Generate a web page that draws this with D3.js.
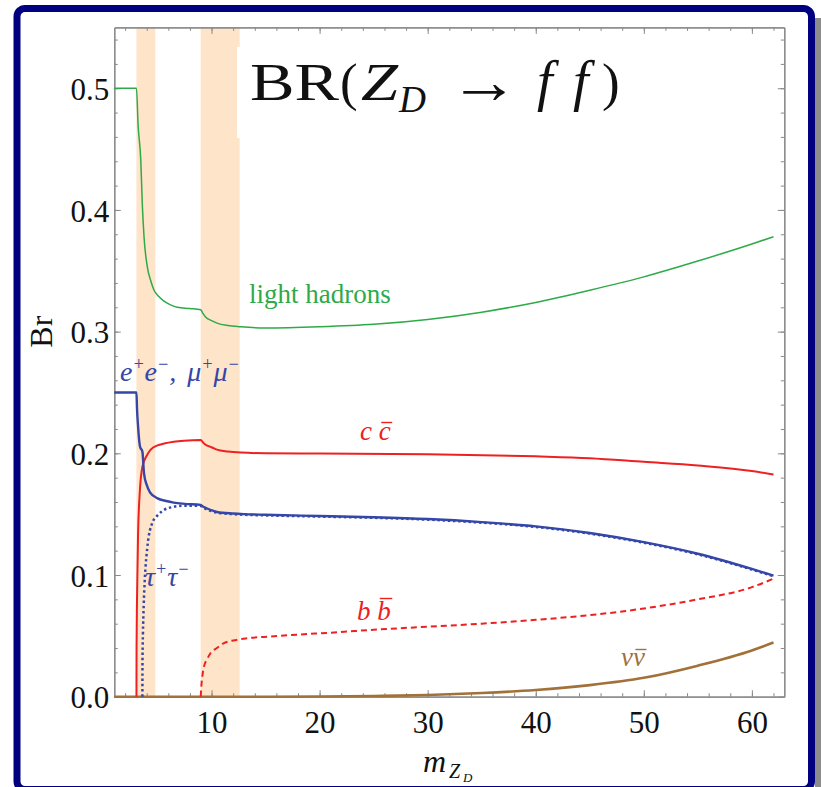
<!DOCTYPE html>
<html>
<head>
<meta charset="utf-8">
<script src="https://cdn.jsdelivr.net/npm/d3@7"></script>
<style>
  html, body { margin: 0; padding: 0; background: #fff; }
  svg { display: block; }
  text { font-family: "Liberation Serif", "Times New Roman", serif; }
</style>
</head>
<body>
<script>
// Branching ratios of the dark Z boson into fermion pairs versus its mass (GeV)

// light hadrons
const mHad = [1, 3.05, 3.2, 3.45, 3.6, 3.75, 4.06, 4.4, 4.68, 5.1, 5.6, 6.2, 6.83, 8, 9.0, 9.2, 9.45, 10, 10.5, 11.5, 12.7, 15, 20, 25, 30, 35, 40, 45, 50, 55, 60, 62];
const brHad = [0.5, 0.5, 0.47, 0.441, 0.403, 0.378, 0.353, 0.341, 0.334, 0.329, 0.325, 0.322, 0.320, 0.319, 0.318, 0.315, 0.312, 0.309, 0.307, 0.305, 0.304, 0.303, 0.304, 0.306, 0.310, 0.316, 0.324, 0.334, 0.345, 0.358, 0.372, 0.378];

// c cbar
const mCC = [3.05, 3.06, 3.1, 3.2, 3.35, 3.6, 4.0, 4.37, 5.0, 5.6, 6.5, 7.45, 9.0, 9.2, 9.45, 10, 10.5, 11.5, 12.7, 15, 20, 30, 40, 45, 50, 55, 60, 62];
const brCC = [0, 0.04, 0.079, 0.134, 0.167, 0.189, 0.198, 0.203, 0.2065, 0.208, 0.2095, 0.2104, 0.211, 0.209, 0.207, 0.205, 0.203, 0.2015, 0.2006, 0.2000, 0.1998, 0.1993, 0.1975, 0.196, 0.193, 0.190, 0.1855, 0.1825];

// e+e- and mu+mu- (each)
const mLep = [1, 3.05, 3.1, 3.2, 3.38, 3.6, 3.75, 4.0, 4.3, 5.0, 5.8, 6.5, 7.5, 9.0, 9.2, 9.5, 10.5, 12, 13, 15, 20, 25, 30, 35, 40, 45, 50, 55, 60, 62];
const brLep = [0.25, 0.25, 0.237, 0.222, 0.2055, 0.2014, 0.1836, 0.174, 0.168, 0.163, 0.1608, 0.1595, 0.1585, 0.1576, 0.1562, 0.155, 0.1518, 0.1505, 0.1500, 0.1495, 0.1485, 0.1475, 0.146, 0.1435, 0.140, 0.1345, 0.127, 0.1175, 0.105, 0.0995];

// tau+tau-
const mTau = [3.6, 3.61, 3.65, 3.72, 3.82, 4.06, 4.5, 5.0, 5.6, 6.5, 7.5, 9.0, 9.2, 9.5, 10.5, 12, 13, 15, 20, 25, 30, 35, 40, 45, 50, 55, 60, 62];
const brTau = [0, 0.03, 0.052, 0.075, 0.096, 0.123, 0.1425, 0.149, 0.1535, 0.156, 0.157, 0.1568, 0.1555, 0.1542, 0.1512, 0.1500, 0.1495, 0.1490, 0.1480, 0.1470, 0.1455, 0.1430, 0.1395, 0.1340, 0.1265, 0.1170, 0.1045, 0.099];

// b bbar
const mBB = [9.0, 9.05, 9.15, 9.3, 9.6, 9.9, 10.5, 11.1, 12, 13.3, 15.5, 18, 21, 25, 30, 35, 40, 45, 50, 55, 60, 62];
const brBB = [0, 0.008, 0.017, 0.0247, 0.031, 0.0357, 0.040, 0.0439, 0.0462, 0.048, 0.0495, 0.051, 0.0526, 0.055, 0.0575, 0.060, 0.0632, 0.067, 0.0725, 0.080, 0.090, 0.097];

// nu nubar
const mNu = [1, 15, 20, 25, 30, 35, 40, 45, 50, 55, 60, 62];
const brNu = [0, 0, 0.0002, 0.0006, 0.0014, 0.003, 0.0055, 0.0095, 0.0155, 0.0255, 0.038, 0.0445];

// shaded resonance regions (charmonium, bottomonium)
const bands = [[3.05, 4.8], [9.0, 12.6]];

// axis ticks
const xMajor = [10, 20, 30, 40, 50, 60];
const xMinor = d3.range(2, 63, 2);
const yMajor = [0, 0.1, 0.2, 0.3, 0.4, 0.5];
const yMinor = d3.range(0, 0.551, 0.02);

const W = 821, H = 787;
const svg = d3.select("body").append("svg").attr("width", W).attr("height", H);

svg.append("rect").attr("width", W).attr("height", H).attr("fill", "#fff");

// slide frame with drop shadow
svg.append("rect").attr("x", 815).attr("y", 18).attr("width", 6).attr("height", H - 18).attr("fill", "#8c8c8c");
svg.append("rect").attr("x", 17).attr("y", 8.5).attr("width", 794.5).attr("height", 781)
  .attr("rx", 8).attr("fill", "#fff").attr("stroke", "#000080").attr("stroke-width", 7);

const x = d3.scaleLinear().domain([1, 63]).range([114.3, 784.3]);
const y = d3.scaleLinear().domain([0, 0.55]).range([696.7, 27.4]);

const band = "#fee4c8";
svg.append("g").selectAll("rect").data(bands).join("rect")
  .attr("x", d => x(d[0])).attr("width", d => x(d[1]) - x(d[0]))
  .attr("y", y(0.55)).attr("height", y(0) - y(0.55))
  .attr("fill", band);

// title panel
svg.append("rect").attr("x", 237).attr("y", 47).attr("width", 395).attr("height", 91).attr("fill", "#fff");
const tt = svg.append("g").attr("fill", "#111");
tt.append("text").attr("x", 250).attr("y", 100).attr("font-size", 53)
  .attr("textLength", 89).attr("lengthAdjust", "spacingAndGlyphs").text("BR");
tt.append("text").attr("x", 340).attr("y", 100).attr("font-size", 53).text("(");
tt.append("text").attr("x", 361).attr("y", 100).attr("font-size", 53).attr("font-style", "italic")
  .attr("textLength", 37).attr("lengthAdjust", "spacingAndGlyphs").text("Z");
tt.append("text").attr("x", 399).attr("y", 111.5).attr("font-size", 37).attr("font-style", "italic")
  .attr("textLength", 27).attr("lengthAdjust", "spacingAndGlyphs").text("D");
tt.append("text").attr("x", 449).attr("y", 103).attr("font-size", 64)
  .attr("textLength", 70).attr("lengthAdjust", "spacingAndGlyphs").text("→");
tt.append("text").attr("x", 537).attr("y", 100).attr("font-size", 56).attr("font-style", "italic").text("f");
tt.append("text").attr("x", 573).attr("y", 100).attr("font-size", 56).attr("font-style", "italic").text("f");
tt.append("text").attr("x", 602).attr("y", 100).attr("font-size", 53).text(")");

// axes: frame with inward ticks on all four sides
const axisColor = "#8a8a8a";
function styleAxis(g) {
  g.select(".domain").attr("stroke", axisColor).attr("stroke-width", 1.2);
  g.selectAll(".tick line").attr("stroke", axisColor);
  g.selectAll("text").attr("fill", "#111").attr("font-family", "'Liberation Serif', 'Times New Roman', serif").attr("font-size", 31);
}
const yb = y(0), yt = y(0.55), xl = x(1), xr = x(63);

svg.append("g").attr("transform", `translate(0,${yb})`)
  .call(d3.axisBottom(x).tickValues(xMinor).tickSize(-3.5).tickFormat("").tickSizeOuter(0))
  .call(styleAxis);
svg.append("g").attr("transform", `translate(0,${yb})`)
  .call(d3.axisBottom(x).tickValues(xMajor).tickSize(-6.5).tickPadding(14).tickSizeOuter(0))
  .call(styleAxis)
  .call(g => g.selectAll("text").attr("dy", "0.71em"));
svg.append("g").attr("transform", `translate(0,${yt})`)
  .call(d3.axisTop(x).tickValues(xMinor).tickSize(-3.5).tickFormat("").tickSizeOuter(0)).call(styleAxis);
svg.append("g").attr("transform", `translate(0,${yt})`)
  .call(d3.axisTop(x).tickValues(xMajor).tickSize(-6.5).tickFormat("").tickSizeOuter(0)).call(styleAxis);

svg.append("g").attr("transform", `translate(${xl},0)`)
  .call(d3.axisLeft(y).tickValues(yMinor).tickSize(-3.5).tickFormat("").tickSizeOuter(0)).call(styleAxis);
svg.append("g").attr("transform", `translate(${xl},0)`)
  .call(d3.axisLeft(y).tickValues(yMajor).tickSize(-6.5).tickPadding(5).tickFormat(d3.format(".1f")).tickSizeOuter(0))
  .call(styleAxis)
  .call(g => g.selectAll("text").attr("dy", "0.36em"));
svg.append("g").attr("transform", `translate(${xr},0)`)
  .call(d3.axisRight(y).tickValues(yMinor).tickSize(-3.5).tickFormat("").tickSizeOuter(0)).call(styleAxis);
svg.append("g").attr("transform", `translate(${xr},0)`)
  .call(d3.axisRight(y).tickValues(yMajor).tickSize(-6.5).tickFormat("").tickSizeOuter(0)).call(styleAxis);

// axis titles
svg.append("text").attr("transform", `translate(52,${y(0.3)}) rotate(-90)`)
  .attr("text-anchor", "middle").attr("font-size", 32).attr("fill", "#111").text("Br");
const xt = svg.append("g").attr("fill", "#111").attr("font-style", "italic");
xt.append("text").attr("x", 423).attr("y", 772).attr("font-size", 32).text("m");
xt.append("text").attr("x", 449).attr("y", 778).attr("font-size", 20).text("Z");
xt.append("text").attr("x", 463).attr("y", 782).attr("font-size", 13).text("D");

// curves
const green = "#2eaa48", red = "#ee2020", blue = "#3446a8", brown = "#a2713a";
const line = d3.line().x(d => x(d[0])).y(d => y(d[1])).curve(d3.curveMonotoneX);
const series = [
  { m: mNu, v: brNu, color: brown, w: 2.6, dash: null },
  { m: mHad, v: brHad, color: green, w: 1.5, dash: null },
  { m: mCC, v: brCC, color: red, w: 2, dash: null },
  { m: mBB, v: brBB, color: red, w: 2, dash: "6,4" },
  { m: mTau, v: brTau, color: blue, w: 2.5, dash: "2.4,2.8" },
  { m: mLep, v: brLep, color: blue, w: 2.4, dash: null }
];
svg.append("g").selectAll("path").data(series).join("path")
  .attr("d", s => line(d3.zip(s.m, s.v)))
  .attr("fill", "none")
  .attr("stroke", s => s.color)
  .attr("stroke-width", s => s.w)
  .attr("stroke-dasharray", s => s.dash);

// curve labels
const lab = svg.append("g");
lab.append("text").attr("x", 249).attr("y", 303).attr("font-size", 27).attr("fill", green).text("light hadrons");

// bar over the last glyph of a label (antiparticle)
function barLast(sel, rise, color) {
  const node = sel.node();
  const n = node.getNumberOfChars();
  const ext = node.getExtentOfChar(n - 1);
  const base = +sel.attr("y");
  lab.append("line")
    .attr("x1", ext.x + 2.5).attr("x2", ext.x + ext.width + 1.5)
    .attr("y1", base - rise).attr("y2", base - rise)
    .attr("stroke", color).attr("stroke-width", 1.4);
}

const cc = lab.append("text").attr("x", 360).attr("y", 440).attr("font-size", 27).attr("fill", red).attr("font-style", "italic").text("c c");
barLast(cc, 17.5, red);

const bb = lab.append("text").attr("x", 357).attr("y", 620).attr("font-size", 27).attr("fill", red).attr("font-style", "italic").text("b b");
barLast(bb, 21.5, red);

const nn = lab.append("text").attr("x", 621).attr("y", 666).attr("font-size", 27).attr("fill", brown).attr("font-style", "italic").text("νν");
barLast(nn, 16.5, brown);

function pair(g, sym, gap) {
  g.append("tspan").attr("dx", gap || 0).text(sym);
  g.append("tspan").attr("dy", -11).attr("font-size", 18).text("+");
  g.append("tspan").attr("dy", 11).text(sym);
  g.append("tspan").attr("dy", -11).attr("font-size", 18).text("−");
}
const ll = lab.append("text").attr("x", 120).attr("y", 381).attr("font-size", 28).attr("fill", blue).attr("font-style", "italic");
pair(ll, "e");
ll.append("tspan").attr("dy", 11).text(",");
pair(ll, "μ", 11);

const tl = lab.append("text").attr("x", 145).attr("y", 586).attr("font-size", 28).attr("fill", blue).attr("font-style", "italic");
pair(tl, "τ");
</script>
</body>
</html>
